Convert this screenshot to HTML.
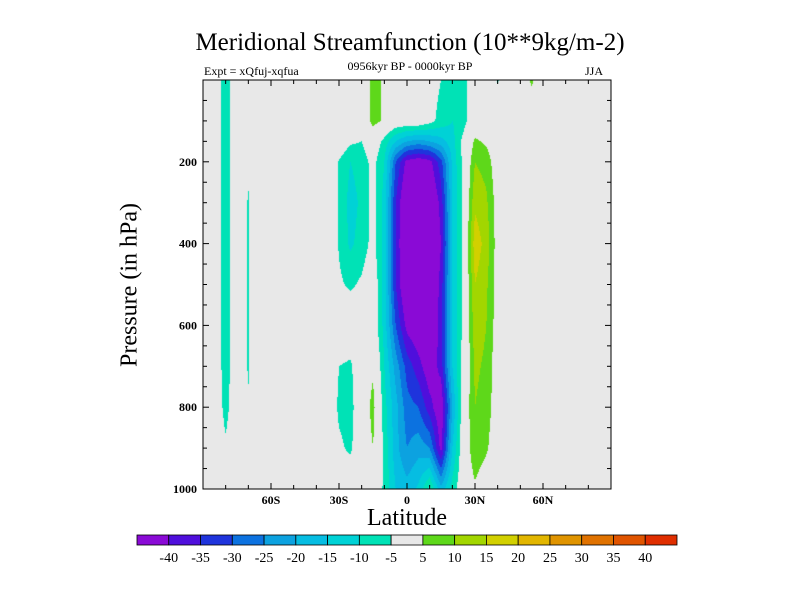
<!DOCTYPE html>
<html><head><meta charset="utf-8"><style>
body{margin:0;background:#fff;width:800px;height:600px;overflow:hidden;position:relative;font-family:"Liberation Serif",serif}
.t{position:absolute;white-space:nowrap}
</style></head><body>
<div class="t" style="left:0;width:820px;text-align:center;top:29px;font-size:25px">Meridional Streamfunction (10**9kg/m-2)</div>
<div class="t" style="left:204px;top:64px;font-size:12px">Expt = xQfuj-xqfua</div>
<div class="t" style="left:0;width:820px;text-align:center;top:59px;font-size:12px">0956kyr BP - 0000kyr BP</div>
<div class="t" style="left:585px;top:64px;font-size:12px">JJA</div>
<div class="t" style="left:130px;top:285px;font-size:24px;transform:translate(-50%,-50%) rotate(-90deg)">Pressure (in hPa)</div>
<div class="t" style="left:0;width:814px;text-align:center;top:505px;font-size:24px">Latitude</div>
<canvas id="cv" width="408" height="409" style="position:absolute;left:203px;top:80px"></canvas>
<svg id="sv" width="800" height="600" style="position:absolute;left:0;top:0"></svg>
<script>
const lats=[-90,-85,-80,-75,-70,-65,-60,-55,-50,-45,-40,-35,-30,-25,-20,-15,-10,-5,0,5,10,15,20,25,30,35,40,45,50,55,60,65,70,75,80,85,90];
const pres=[0,100,150,200,300,400,500,600,700,800,900,1000];
const row0=[0,0,-8,0,0,0,0,0,0,0,0,0,0,0,0,7,4,0,0,0,-2,-5,-9,-7,0,0,-5.5,0,0,6,0,0,0,0,0,0,0];
const row100=[0,0,-8,0,0,0,0,0,0,0,0,0,0,0,0,7,4,0,0,0,-3,-7,-10,-7,0,0,0,0,0,0,0,0,0,0,0,0,0];
const row150=[0,0,-8,0,0,0,0,0,0,0,0,0,0,-4,-5,0,-7,-15,-20,-22,-20,-17,-12,-3,6,4,0,0,0,0,0,0,0,0,0,0,0];
const row200=[0,0,-8,0,-4,0,0,0,0,0,0,0,-5.5,-10,-8,-3,-10,-30,-42,-44,-42,-32,-14,-3,10,8,1,0,0,0,0,0,0,0,0,0,0];
const row300=[0,0,-8,0,-5.5,0,0,0,0,0,0,0,-5.5,-12,-9,-3,-12,-35,-48,-50,-48,-38,-15,-3,14,11,2,0,0,0,0,0,0,0,0,0,0];
const row400=[0,0,-8,0,-5.5,0,0,0,0,0,0,0,-5.5,-11,-8,-3,-12,-35,-50,-52,-50,-40,-15,-3,18,13,2,0,0,0,0,0,0,0,0,0,0];
const row500=[0,0,-8,0,-5.5,0,0,0,0,0,0,0,-4,-6,-4,0,-12,-35,-48,-50,-48,-38,-15,-3,15,11,2,0,0,0,0,0,0,0,0,0,0];
const row600=[0,0,-8,0,-5.5,0,0,0,0,0,0,0,0,0,0,0,-12,-30,-42,-45,-45,-38,-15,-3,13,10,2,0,0,0,0,0,0,0,0,0,0];
const row700=[0,0,-8,0,-5.5,0,0,0,0,0,0,0,-5,-6,0,4,-10,-22,-32,-38,-44,-38,-15,-2,11,9,1,0,0,0,0,0,0,0,0,0,0];
const row800=[0,0,-7,0,-4.5,0,0,0,0,0,0,0,-6,-7,0,7,-8,-18,-28,-30,-38,-45,-20,0,10,8,1,0,0,0,0,0,0,0,0,0,0];
const row900=[0,0,-4,0,0,0,0,0,0,0,0,0,-4,-6,0,5,-6.5,-18,-25,-22,-25,-42,-15,0,9,6,0,0,0,0,0,0,0,0,0,0,0];
const row1000=[0,0,0,0,0,0,0,0,0,0,0,0,0,0,0,0,-6,-15,-18,-14,-4,-18,-8,0,4,0,0,0,0,0,0,0,0,0,0,0,0];
const grid=[row0,row100,row150,row200,row300,row400,row500,row600,row700,row800,row900,row1000];
const levels=[-40,-35,-30,-25,-20,-15,-10,-5,5,10,15,20,25,30,35,40];
const colors=['#8a0ad6','#4f0fdc','#1f34dc','#0c72e0','#0ca2e0','#06bde2','#00d2d6','#00e2b6','#e8e8e8','#5ed81a','#a2d600','#d2d000','#e2b600','#e09400','#e07200','#e05400','#e02e00'];
const xTickVals=[-60,-30,0,30,60];
const xTickLabels=['60S','30S','0','30N','60N'];
const yTickVals=[200,400,600,800,1000];
const X0=203,X1=611,Y0=80,Y1=489;
const xs=lat=>X0+(lat+90)/180*(X1-X0);
const ys=p=>Y0+p/1000*(Y1-Y0);
function idx(arr,v){for(let i=0;i<arr.length-1;i++){if(v<=arr[i+1])return i;}return arr.length-2;}
function val(lat,p){const i=idx(lats,lat),j=idx(pres,p);
const tx=(lat-lats[i])/(lats[i+1]-lats[i]),ty=(p-pres[j])/(pres[j+1]-pres[j]);
const a=grid[j][i],b=grid[j][i+1],c=grid[j+1][i],d=grid[j+1][i+1];
return (a*(1-tx)+b*tx)*(1-ty)+(c*(1-tx)+d*tx)*ty;}
function colorOf(v){let k=0;while(k<levels.length&&v>=levels[k])k++;return colors[k];}
const cv=document.getElementById('cv'),ctx=cv.getContext('2d');
for(let py=0;py<cv.height;py++){for(let px=0;px<cv.width;px++){
const lat=-90+(px+0.5)/cv.width*180,p=(py+0.5)/cv.height*1000;
ctx.fillStyle=colorOf(val(lat,p));ctx.fillRect(px,py,1,1);}}
const sv=document.getElementById('sv');const NS='http://www.w3.org/2000/svg';
function mk(tag,at){const e=document.createElementNS(NS,tag);for(const k in at)e.setAttribute(k,at[k]);sv.appendChild(e);return e;}
const fr=mk('rect',{x:X0,y:Y0,width:X1-X0,height:Y1-Y0,fill:'none',stroke:'#000','stroke-width':1});


for(let lat=-80;lat<=80;lat+=10){const major=xTickVals.includes(lat);const len=major?6:4;
const l=mk('line',{x1:xs(lat),x2:xs(lat),y1:Y1,y2:Y1-len,stroke:'#000'});


const l2=mk('line',{x1:xs(lat),x2:xs(lat),y1:Y0,y2:Y0+len,stroke:'#000'});

}
xTickVals.forEach((v,i)=>{const t=mk('text',{x:xs(v),y:Y1+15,'text-anchor':'middle','font-size':12,'font-weight':'bold','font-family':'Liberation Serif, serif'});t.textContent=xTickLabels[i];

});
for(let p=50;p<1000;p+=50){const major=yTickVals.includes(p);const len=major?6:4;
const l=mk('line',{x1:X0,x2:X0+len,y1:ys(p),y2:ys(p),stroke:'#000'});


const l2=mk('line',{x1:X1,x2:X1-len,y1:ys(p),y2:ys(p),stroke:'#000'});

}
yTickVals.forEach(v=>{const t=mk('text',{x:X0-6,y:ys(v)+4,'text-anchor':'end','font-size':12,'font-weight':'bold','font-family':'Liberation Serif, serif'});t.textContent=v;

});
const CB0=137,CB1=677,CBY=535,CBH=10;const CBW=(CB1-CB0)/colors.length;
colors.forEach((c,i)=>{const r=mk('rect',{x:CB0+i*CBW,y:CBY,width:CBW,height:CBH,fill:c,stroke:'#000','stroke-width':0.8});

});
levels.forEach((v,i)=>{const t=mk('text',{x:CB0+(i+1)*CBW,y:CBY+27,'text-anchor':'middle','font-size':14,'font-family':'Liberation Serif, serif'});t.textContent=v;

});
</script>
</body></html>
